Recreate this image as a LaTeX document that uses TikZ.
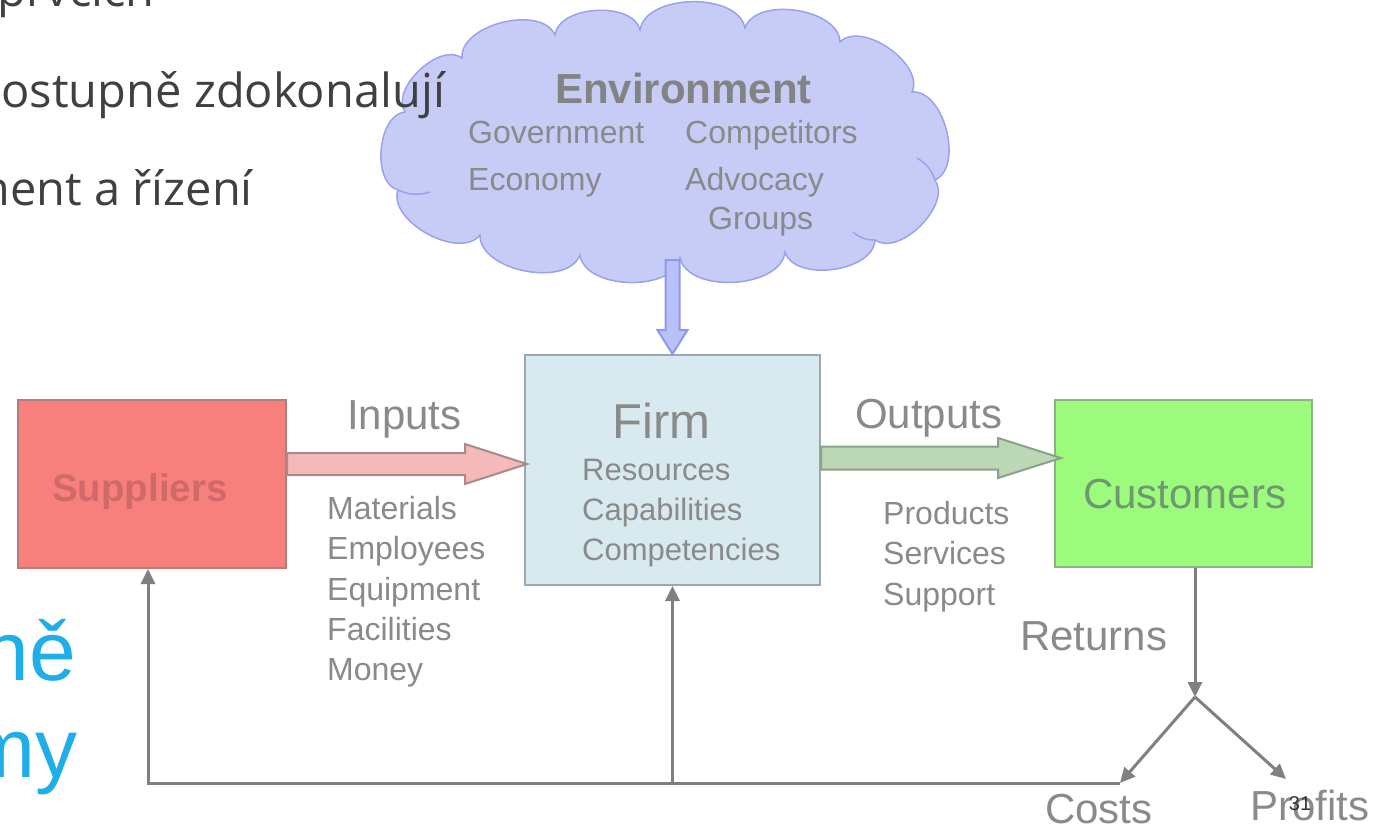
\documentclass[tikz,border=0pt]{standalone}
\usepackage{fontspec}
\setmainfont{Liberation Sans}
\newfontfamily\slidefont{Open Sans}
\usetikzlibrary{arrows.meta,calc}
\definecolor{cloudfill}{HTML}{C7CCF7}
\definecolor{cloudline}{HTML}{9AA2EC}
\definecolor{envfill}{HTML}{BAC1F8}
\definecolor{envline}{HTML}{8F98F0}
\definecolor{firmfill}{HTML}{D8EAEF}
\definecolor{firmline}{HTML}{9AA9AD}
\definecolor{supfill}{HTML}{F7807D}
\definecolor{supline}{HTML}{B47C7A}
\definecolor{suptext}{HTML}{D06A69}
\definecolor{infill}{HTML}{F4B9B8}
\definecolor{inline}{HTML}{A88A8A}
\definecolor{outfill}{HTML}{BCD7B5}
\definecolor{outline}{HTML}{8AA18A}
\definecolor{custfill}{HTML}{9CFB7C}
\definecolor{custline}{HTML}{8DB383}
\definecolor{custtext}{HTML}{6E9870}
\definecolor{txtgrey}{HTML}{8A8A8A}
\definecolor{linegrey}{HTML}{808080}
\definecolor{slidegrey}{HTML}{404040}
\definecolor{slideblue}{HTML}{1FAEE6}
\begin{document}
\begin{tikzpicture}[x=1pt,y=-1pt,
  sml/.style={font=\fontsize{32}{36}\selectfont, text=txtgrey, inner sep=0pt},
  big/.style={font=\fontsize{42}{46}\selectfont, text=txtgrey, inner sep=0pt},
  box/.style={rectangle, line width=2pt, inner sep=0pt},
  slidetxt/.style={font=\slidefont\fontsize{47}{52}\selectfont, text=slidegrey, inner sep=0pt},
  bluetxt/.style={font=\fontsize{84}{90}\selectfont, text=slideblue, inner sep=0pt},
  fb/.style={draw=linegrey, line width=3pt, -{Triangle[length=15pt,width=14pt]}},
  blockarr/.style={line width=2pt, line join=miter},
  puff/.style={bend left=80, looseness=0.9}
]
\useasboundingbox (0,0) rectangle (1398,828);
\fill[white] (0,0) rectangle (1398,828);

% environment cloud
\coordinate (c1) at (398,190);
\coordinate (c2) at (405,112);
\coordinate (c3) at (462,58);
\coordinate (c4) at (555,35);
\coordinate (c5) at (640,30);
\coordinate (c6) at (745,28);
\coordinate (c7) at (840,42);
\coordinate (c8) at (912,92);
\coordinate (c9) at (935,180);
\coordinate (c10) at (875,240);
\coordinate (c11) at (785,252);
\coordinate (c12) at (680,258);
\coordinate (c13) at (580,255);
\coordinate (c14) at (480,235);
\draw[cloudline, fill=cloudfill, line width=1.5pt]
  (c1) to[puff] (c2) to[puff] (c3) to[puff] (c4) to[puff] (c5) to[puff] (c6)
  to[puff] (c7) to[puff] (c8) to[puff] (c9) to[puff] (c10) to[puff] (c11)
  to[puff] (c12) to[puff] (c13) to[puff] (c14) to[puff] (c1) -- cycle;
\draw[cloudline, line width=1.5pt] (c1) to[bend right=20] ($(c1)+(32,2)$);
\draw[cloudline, line width=1.5pt] (c9) to[bend right=20] ($(c9)+(-18,-22)$);
\draw[cloudline, line width=1.5pt] (c10) to[bend left=20] ($(c10)+(-22,-8)$);
\node[font=\bfseries\fontsize{42}{46}\selectfont, text=txtgrey!95!black, inner sep=0pt, anchor=base west] (envt) at (555,103) {Environment};
\node[sml, anchor=base west] (gov) at (468,143) {Government};
\node[sml, anchor=base west] (comp) at (685,143) {Competitors};
\node[sml, anchor=base west] (eco) at (468,190) {Economy};
\node[sml, anchor=base west] (adv) at (685,190) {Advocacy};
\node[sml, anchor=base west] (grp) at (708,229) {Groups};

% slide text (partly cut off at the left/top)
\node[slidetxt, anchor=base east] (s0) at (155,6) {prvcích};
\node[slidetxt, anchor=base east] (s1) at (445,107) {postupně zdokonalují};
\node[slidetxt, anchor=base east] (s2) at (253,205) {management a řízení};
\node[bluetxt, anchor=base east] (b1) at (76,680) {ně};
\node[bluetxt, anchor=base east] (b2) at (78,777) {my};

% boxes
\node[box, draw=firmline, fill=firmfill, minimum width=295, minimum height=230] (firm) at (672.5,470) {};
\node[box, draw=supline, fill=supfill, minimum width=268, minimum height=168] (sup) at (152,484) {};
\node[box, draw=custline, fill=custfill, minimum width=257, minimum height=167] (cust) at (1183.5,483.5) {};

\node[font=\bfseries\fontsize{38.5}{42}\selectfont, text=suptext, inner sep=0pt, anchor=base west] (supt) at (52,501) {Suppliers};
\node[font=\fontsize{42}{46}\selectfont, text=custtext, inner sep=0pt, anchor=base west] (custt) at (1083,508) {Customers};
\node[font=\fontsize{49}{52}\selectfont, text=txtgrey, inner sep=0pt, anchor=base west] (firmt) at (612,438) {Firm};
\node[sml, font=\fontsize{31}{34}\selectfont, anchor=base west] (res) at (582,480) {Resources};
\node[sml, font=\fontsize{31}{34}\selectfont, anchor=base west] (cap) at (582,520) {Capabilities};
\node[sml, font=\fontsize{31}{34}\selectfont, anchor=base west] (cmp) at (582,560) {Competencies};

% environment block arrow
\coordinate (eA) at (firm.north |- 0,260);
\coordinate (eH) at ($(firm.north)+(0,-24)$);
\draw[blockarr, draw=envline, fill=envfill]
  ($(eA)+(-7,0)$) -- ($(eH)+(-7,0)$) -- ($(eH)+(-15,0)$) -- (firm.north)
  -- ($(eH)+(15,0)$) -- ($(eH)+(7,0)$) -- ($(eA)+(7,0)$) -- cycle;

% inputs block arrow
\coordinate (iA) at (sup.east |- 0,464);
\coordinate (iT) at ($(firm.west |- 0,464)+(3,0)$);
\coordinate (iH) at ($(iT)+(-62,0)$);
\draw[blockarr, draw=inline, fill=infill]
  ($(iA)+(0,-11)$) -- ($(iH)+(0,-11)$) -- ($(iH)+(0,-20)$) -- (iT)
  -- ($(iH)+(0,20)$) -- ($(iH)+(0,11)$) -- ($(iA)+(0,11)$) -- cycle;
\node[big, anchor=base west] (inl) at (347,429) {Inputs};
\node[sml, anchor=base west] (m1) at (327,519) {Materials};
\node[sml, anchor=base west] (m2) at (327,559) {Employees};
\node[sml, anchor=base west] (m3) at (327,600) {Equipment};
\node[sml, anchor=base west] (m4) at (327,640) {Facilities};
\node[sml, anchor=base west] (m5) at (327,680) {Money};

% outputs block arrow
\coordinate (oA) at (firm.east |- 0,458);
\coordinate (oT) at ($(cust.west |- 0,458)+(7,0)$);
\coordinate (oH) at ($(oT)+(-63,0)$);
\draw[blockarr, draw=outline, fill=outfill]
  ($(oA)+(0,-11.5)$) -- ($(oH)+(0,-11.5)$) -- ($(oH)+(0,-20)$) -- (oT)
  -- ($(oH)+(0,20)$) -- ($(oH)+(0,11.5)$) -- ($(oA)+(0,11.5)$) -- cycle;
\node[big, anchor=base west] (outl) at (855,428) {Outputs};
\node[sml, anchor=base west] (p1) at (883,524) {Products};
\node[sml, anchor=base west] (p2) at (883,564) {Services};
\node[sml, anchor=base west] (p3) at (883,605) {Support};

% returns, costs, profits
\coordinate (split) at (1195,697);
\coordinate (ctip) at (1120,783);
\coordinate (ptip) at (1286,779);
\coordinate (bl) at (148,783);
\draw[fb] (cust.south -| split) -- (split);
\draw[fb] (split) -- (ctip);
\draw[fb] (split) -- (ptip);
\draw[fb] (ctip) -- (bl) -- (bl |- sup.south);
\draw[fb] (firm.south |- bl) -- (firm.south);
\node[big, anchor=base west] (ret) at (1020,650) {Returns};
\node[big, anchor=base west] (cst) at (1045,823) {Costs};
\node[big, anchor=base west] (prf) at (1250,820) {Profits};
\node[font=\fontsize{20}{22}\selectfont, text=black!80, inner sep=0pt] (pg) at (1300,804) {31};
\end{tikzpicture}
\end{document}
